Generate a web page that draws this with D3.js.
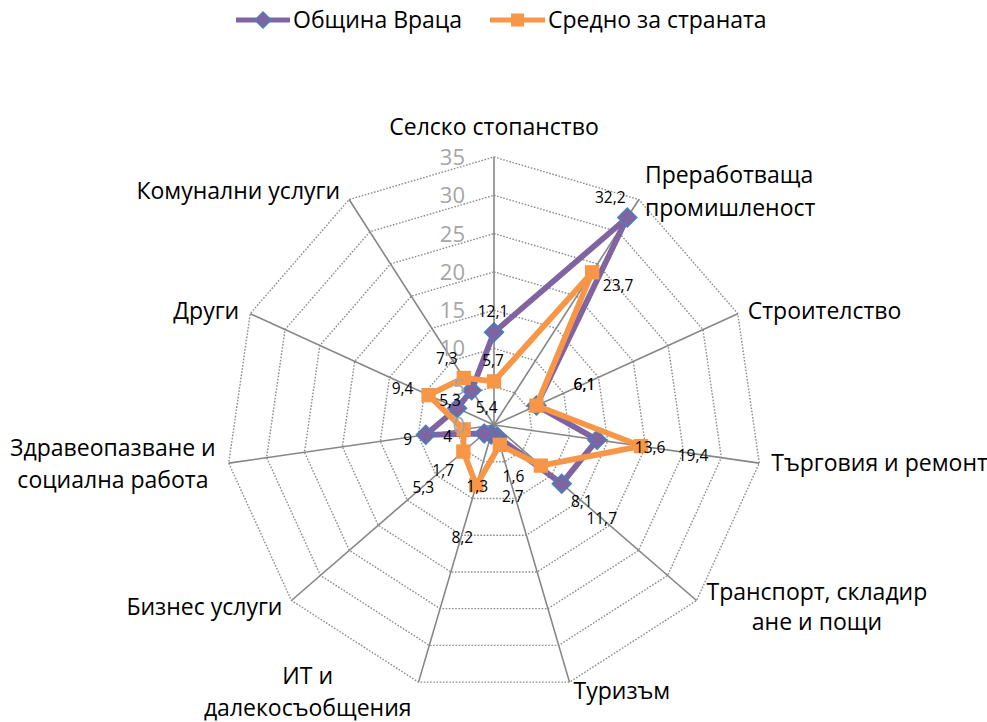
<!DOCTYPE html>
<html><head><meta charset="utf-8">
<script src="https://cdn.jsdelivr.net/npm/d3@7"></script>
<style>body{margin:0;background:#fff} svg{display:block}</style>
</head><body>
<script>
// ---------- DATA ----------
const categories = ["Селско стопанство", "Преработваща\nпромишленост", "Строителство", "Търговия и ремонт",
  "Транспорт, складир\nане и пощи", "Туризъм", "ИТ и\nдалекосъобщения", "Бизнес услуги",
  "Здравеопазване и\nсоциална работа", "Други", "Комунални услуги"];
const seriesNames = ["Община Враца", "Средно за страната"];
const vratsa   = [12.1, 32.2, 6.1, 13.6, 11.7, 1.6, 1.3, 1.7, 9, 5.3, 5.4];
const national = [5.7, 23.7, 6.1, 19.4, 8.1, 2.7, 8.2, 5.3, 4, 9.4, 7.3];
const tickValues = [0, 5, 10, 15, 20, 25, 30, 35];

// ---------- LAYOUT / STYLE ----------
const W = 987, H = 722, cx = 494, cy = 425, R = 268;
const FONT = "'Open Sans', 'Noto Sans', sans-serif";
const CAT_FS = 23;
const colors = ["#8064A2", "#F79646"];
const markerStroke = "#4A7EBB";
// data label nudges (px) relative to each point
const labelNudge = [
  [[-1,-21],[-17,-20],[48,-21],[53,8],[40,35],[16,40],[-14,52],[-41,37],[-18,5],[-7,-8],[15,17]],
  [[-1,-21],[26,13],[48,-21],[52,9],[41,36],[13,52],[-14,52],[-40,36],[-16,7],[-26,-7],[-17,-20]]
];
// category label placement relative to the outer vertex
const catLayout = [
  {a:"middle", dx:0, dy:-30, lh:33},
  {a:"start", dx:6, dy:-25, lh:33},
  {a:"start", dx:10, dy:-3, lh:33},
  {a:"start", dx:12, dy:0, lh:33},
  {a:"blockStart", dx:10, dy:-9, lh:30},
  {a:"start", dx:4, dy:9, lh:33},
  {a:"blockEnd", dx:-7, dy:-6, lh:32},
  {a:"end", dx:-9, dy:6, lh:33},
  {a:"blockEnd", dx:-13, dy:-15, lh:32},
  {a:"end", dx:-11, dy:-3, lh:33},
  {a:"end", dx:-9, dy:-9, lh:33}
];

const svg = d3.select("body").append("svg").attr("width", W).attr("height", H);
const g = svg.append("g").attr("transform", `translate(${cx},${cy})`);

const n = categories.length;
const ang = d3.scaleLinear().domain([0, n]).range([0, 2 * Math.PI]);
const rad = d3.scaleLinear().domain([0, 35]).range([0, R]);
const px = (i, v) => rad(v) * Math.sin(ang(i));
const py = (i, v) => -rad(v) * Math.cos(ang(i));

// rings
const ringLine = d3.lineRadial().angle((d, i) => ang(i)).radius(d => rad(d)).curve(d3.curveLinearClosed);
tickValues.filter(t => t > 0).forEach(t => {
  g.append("path").attr("d", ringLine(d3.range(n).map(() => t)))
    .attr("fill", "none").attr("stroke", "#8c8c8c").attr("stroke-width", 1.4)
    .attr("stroke-dasharray", "1.6,1.6");
});
// spokes
g.selectAll(".spoke").data(d3.range(n)).join("line")
  .attr("x1", 0).attr("y1", 0)
  .attr("x2", i => px(i, 35)).attr("y2", i => py(i, 35))
  .attr("stroke", "#868686").attr("stroke-width", 1.6);

// series
const seriesData = [vratsa, national];
const seriesLine = d3.lineRadial().angle((d, i) => ang(i)).radius(d => rad(d)).curve(d3.curveLinearClosed);
seriesData.forEach((vals, s) => {
  g.append("path").attr("d", seriesLine(vals)).attr("fill", "none")
    .attr("stroke", colors[s]).attr("stroke-width", 5.8).attr("stroke-linejoin", "round");
  if (s === 0) {
    g.selectAll(".m0").data(vals).join("path")
      .attr("d", d3.symbol(d3.symbolSquare, 175)())
      .attr("transform", (d, i) => `translate(${px(i, d)},${py(i, d)}) rotate(45)`)
      .attr("fill", colors[0]).attr("stroke", markerStroke).attr("stroke-width", 1.6);
  } else {
    g.selectAll(".m1").data(vals).join("path")
      .attr("d", d3.symbol(d3.symbolSquare, 205)())
      .attr("transform", (d, i) => `translate(${px(i, d)},${py(i, d)})`)
      .attr("fill", colors[1]);
  }
});

// axis tick labels
g.selectAll(".tick").data(tickValues).join("text")
  .attr("x", -29).attr("y", d => -rad(d)).attr("dy", "0.36em")
  .attr("text-anchor", "end").attr("font-family", FONT).attr("font-size", 22)
  .attr("fill", "#a6a6a6").text(d => d);

// data labels
const fmt = v => String(v).replace(".", ",");
seriesData.forEach((vals, s) => {
  g.selectAll(".dl" + s).data(vals).join("text")
    .attr("x", (d, i) => px(i, d) + labelNudge[s][i][0])
    .attr("y", (d, i) => py(i, d) + labelNudge[s][i][1])
    .attr("dy", "0.36em").attr("text-anchor", "middle")
    .attr("font-family", FONT).attr("font-size", 15.5).attr("fill", "#000")
    .text(d => fmt(d));
});

// category labels
categories.forEach((c, i) => {
  const L = catLayout[i];
  const vx = px(i, 35), vy = py(i, 35);
  const lines = c.split("\n");
  const t = g.append("text").attr("font-family", FONT).attr("font-size", CAT_FS).attr("fill", "#000");
  const block = L.a === "blockStart" || L.a === "blockEnd";
  t.attr("text-anchor", block ? "middle" : L.a);
  lines.forEach((ln, k) => {
    t.append("tspan").attr("x", 0).attr("y", vy + L.dy + k * L.lh).attr("dy", "0.36em").text(ln);
  });
  let x = vx + L.dx;
  if (block) {
    const w = d3.max(t.selectAll("tspan").nodes(), nd => nd.getComputedTextLength());
    x = L.a === "blockStart" ? x + w / 2 : x - w / 2;
  }
  t.selectAll("tspan").attr("x", x);
});

// legend
const leg = svg.append("g");
const legItems = [{x1: 236, x2: 290, tx: 293}, {x1: 490, x2: 545, tx: 548}];
seriesNames.forEach((name, s) => {
  const it = legItems[s], y = 20, mx = (it.x1 + it.x2) / 2;
  leg.append("line").attr("x1", it.x1).attr("x2", it.x2).attr("y1", y).attr("y2", y)
    .attr("stroke", colors[s]).attr("stroke-width", 5);
  if (s === 0) {
    leg.append("path").attr("d", d3.symbol(d3.symbolSquare, 130)())
      .attr("transform", `translate(${mx},${y}) rotate(45)`)
      .attr("fill", colors[0]).attr("stroke", markerStroke).attr("stroke-width", 1.5);
  } else {
    leg.append("path").attr("d", d3.symbol(d3.symbolSquare, 170)())
      .attr("transform", `translate(${mx},${y})`).attr("fill", colors[1]);
  }
  leg.append("text").attr("x", it.tx).attr("y", y).attr("dy", "0.36em")
    .attr("font-family", FONT).attr("font-size", CAT_FS).attr("fill", "#000").text(name);
});
</script>
</body></html>
